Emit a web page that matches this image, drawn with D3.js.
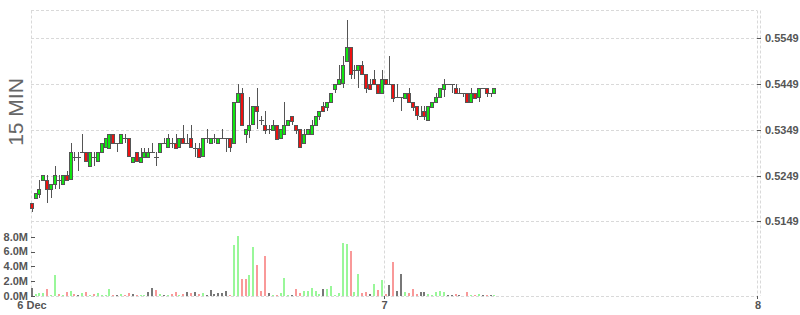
<!DOCTYPE html>
<html lang="en">
<head>
<meta charset="UTF-8">
<script src="https://d3js.org/d3.v7.min.js"></script>
<style>
  body { margin: 0; background: #fff; }
  svg text { font-family: "Liberation Sans", Arial, sans-serif; }
</style>
</head>
<body>
<div id="chart"></div>
<script>
// 15 min candles, first one at 6 Dec 01:15
const firstCandle = "2017-12-06T01:15:00Z";
const open = [0.519,0.520,0.521,0.524,0.524,0.522,0.523,0.524,0.523,0.525,
  0.524,0.529,0.529,0.530,0.530,0.527,0.529,0.528,0.530,0.531,
  0.531,0.534,0.532,0.532,0.533,0.533,0.528,0.530,0.528,0.529,
  0.529,0.530,0.529,0.530,0.532,0.531,0.532,0.532,0.531,0.533,
  0.532,0.533,0.531,0.531,0.529,0.533,0.532,0.533,0.532,0.533,
  0.533,0.533,0.532,0.541,0.543,0.534,0.535,0.536,0.540,0.537,
  0.536,0.535,0.535,0.536,0.533,0.534,0.536,0.538,0.536,0.535,
  0.532,0.534,0.534,0.536,0.538,0.540,0.540,0.541,0.544,0.545,
  0.545,0.550,0.553,0.548,0.548,0.549,0.547,0.545,0.546,0.545,
  0.543,0.546,0.545,0.545,0.542,0.542,0.542,0.543,0.541,0.540,
  0.538,0.539,0.537,0.540,0.541,0.542,0.544,0.545,0.545,0.544,
  0.543,0.543,0.543,0.541,0.543,0.542,0.544,0.544,0.543,0.543];
const high = [0.519,0.521,0.524,0.525,0.525,0.523,0.527,0.525,0.525,0.526,
  0.532,0.530,0.530,0.534,0.530,0.530,0.530,0.530,0.532,0.533,
  0.534,0.534,0.532,0.534,0.534,0.533,0.529,0.530,0.531,0.531,
  0.531,0.532,0.530,0.532,0.533,0.534,0.533,0.534,0.533,0.536,
  0.534,0.536,0.532,0.532,0.533,0.535,0.533,0.534,0.533,0.535,
  0.533,0.533,0.541,0.545,0.544,0.535,0.542,0.540,0.544,0.538,
  0.539,0.536,0.537,0.536,0.535,0.541,0.537,0.538,0.536,0.535,
  0.535,0.535,0.537,0.538,0.539,0.541,0.541,0.543,0.545,0.549,
  0.551,0.559,0.553,0.549,0.549,0.550,0.547,0.546,0.548,0.545,
  0.548,0.546,0.551,0.545,0.545,0.542,0.543,0.544,0.541,0.540,
  0.540,0.540,0.540,0.541,0.543,0.544,0.546,0.545,0.545,0.545,
  0.544,0.543,0.543,0.544,0.543,0.544,0.544,0.544,0.543,0.544];
const low = [0.517,0.520,0.520,0.524,0.519,0.520,0.522,0.522,0.523,0.524,
  0.524,0.528,0.526,0.530,0.528,0.527,0.527,0.528,0.530,0.531,
  0.531,0.532,0.530,0.532,0.532,0.529,0.528,0.528,0.528,0.529,
  0.529,0.530,0.527,0.530,0.532,0.531,0.531,0.531,0.531,0.532,
  0.532,0.531,0.529,0.529,0.529,0.532,0.532,0.532,0.532,0.533,
  0.530,0.530,0.532,0.541,0.536,0.532,0.533,0.536,0.535,0.536,
  0.534,0.534,0.535,0.533,0.533,0.534,0.536,0.536,0.534,0.531,
  0.532,0.534,0.534,0.536,0.537,0.539,0.539,0.541,0.543,0.545,
  0.544,0.550,0.546,0.546,0.544,0.547,0.543,0.544,0.545,0.543,
  0.543,0.545,0.545,0.541,0.542,0.539,0.542,0.541,0.539,0.537,
  0.538,0.537,0.537,0.540,0.541,0.542,0.542,0.545,0.543,0.543,
  0.543,0.542,0.541,0.541,0.542,0.541,0.544,0.542,0.542,0.543];
const close = [0.518,0.521,0.522,0.525,0.522,0.523,0.525,0.524,0.525,0.524,
  0.530,0.529,0.529,0.530,0.528,0.530,0.529,0.530,0.532,0.533,
  0.534,0.532,0.532,0.534,0.533,0.529,0.529,0.528,0.529,0.530,
  0.530,0.530,0.529,0.532,0.532,0.533,0.532,0.531,0.533,0.532,
  0.532,0.531,0.531,0.529,0.533,0.533,0.533,0.533,0.533,0.533,
  0.533,0.531,0.541,0.543,0.536,0.535,0.536,0.540,0.539,0.537,
  0.535,0.535,0.536,0.533,0.535,0.536,0.537,0.537,0.535,0.531,
  0.534,0.535,0.536,0.538,0.539,0.539,0.541,0.543,0.545,0.546,
  0.549,0.553,0.547,0.548,0.549,0.547,0.544,0.544,0.545,0.543,
  0.546,0.545,0.545,0.542,0.542,0.542,0.543,0.541,0.540,0.538,
  0.538,0.538,0.540,0.541,0.542,0.544,0.545,0.545,0.545,0.543,
  0.543,0.543,0.541,0.543,0.542,0.544,0.544,0.543,0.543,0.544];
// volume in millions
const volume = [1.1,0.3,0.4,0.4,0.9,0.1,2.8,0.3,0.2,0.5,
  0.7,0.3,0.1,0.4,0.5,0.2,0.3,0.4,0.2,0.2,
  1.0,0.2,0.1,0.27,0.2,0.45,0.3,0.1,0.2,0.1,
  0.55,1.1,0.8,0.3,0.1,0.2,0.3,0.6,0.2,0.3,
  0.55,0.45,0.55,0.27,0.36,0.1,0.8,0.27,0.36,0.36,
  0.7,0.1,6.9,8.1,2.3,2.3,2.8,6.6,4.2,0.7,
  5.4,0.4,0.15,0.15,0.4,2.4,0.15,0.15,0.95,0.4,
  0.7,0.7,1.1,0.7,0.3,0.95,0.95,1.35,0.15,0.4,
  7.2,7.0,6.1,0.55,3.0,0.4,0.55,0.3,1.6,0.8,
  2.2,0.3,1.5,4.6,0.7,3.0,0.55,0.4,0.95,0.3,
  0.55,0.55,0.27,0.1,0.55,0.7,0.55,0.2,0.2,0.27,
  0.1,0.05,0.55,0.2,0.2,0.27,0.1,0.2,0.2,0.1];

const priceTicks = [0.5149, 0.5249, 0.5349, 0.5449, 0.5549];
const volumeTicks = [0, 2, 4, 6, 8];
const xTicks = ["2017-12-06T01:20:00Z", "2017-12-07T00:00:00Z", "2017-12-08T00:00:00Z"];
const xTickText = ["6 Dec", "7", "8"];
const paneLabel = "15 MIN";

const W = 800, H = 315;
const plotL = 31, plotR = 757, plotT = 10.5, plotB = 296;
const step = 15 * 60 * 1000;

const svg = d3.select("#chart").append("svg")
  .attr("width", W).attr("height", H);

const x = d3.scaleTime()
  .domain([new Date(xTicks[0]), new Date(xTicks[2])])
  .range([plotL, plotR]);
const y = d3.scaleLinear().domain([0.5149, 0.5549]).range([221.3, 38.3]);
const yv = d3.scaleLinear().domain([0, 8]).range([plotB, 236.7]);

const t0 = new Date(firstCandle).getTime();
const data = open.map((o, i) => ({
  t: new Date(t0 + i * step + step / 2),
  o, h: high[i], l: low[i], c: close[i], v: volume[i],
  prev: i > 0 ? close[i - 1] : null
}));
const cx = d => Math.round(x(d.t)) + 0.5;

// grid
const grid = svg.append("g")
  .attr("stroke", "#d9d9d9").attr("stroke-dasharray", "3,2").attr("fill", "none");
grid.selectAll("line.h")
  .data([...priceTicks, "top"])
  .join("line")
  .attr("x1", plotL).attr("x2", plotR)
  .attr("y1", d => d === "top" ? plotT : Math.round(y(d)) + 0.5)
  .attr("y2", d => d === "top" ? plotT : Math.round(y(d)) + 0.5);
grid.append("line").attr("x1", plotL).attr("x2", plotR)
  .attr("y1", plotB + 0.5).attr("y2", plotB + 0.5);
grid.selectAll("line.v")
  .data([plotL + 0.5, Math.round(x(new Date(xTicks[1]))) + 0.5, plotR + 0.5, plotR + 3.5])
  .join("line")
  .attr("x1", d => d).attr("x2", d => d)
  .attr("y1", plotT).attr("y2", plotB);

// volume bars
const volColor = d => d.prev === null || d.c === d.prev ? "#777" : (d.c > d.prev ? "#99f799" : "#f99999");
svg.append("g").selectAll("rect")
  .data(data)
  .join("rect")
  .attr("x", d => cx(d) - 1.5)
  .attr("width", 2)
  .attr("y", d => yv(d.v))
  .attr("height", d => plotB - yv(d.v))
  .attr("fill", volColor)
  .attr("shape-rendering", "crispEdges");

// candles
const candles = svg.append("g").selectAll("g")
  .data(data)
  .join("g");
candles.append("line")
  .attr("x1", cx).attr("x2", cx)
  .attr("y1", d => Math.round(y(d.h))).attr("y2", d => Math.round(y(d.l)))
  .attr("stroke", "#555").attr("stroke-width", 1);
candles.filter(d => d.o !== d.c).append("rect")
  .attr("x", d => cx(d) - 2)
  .attr("width", 3)
  .attr("y", d => Math.round(y(Math.max(d.o, d.c))) + 0.5)
  .attr("height", d => Math.round(Math.abs(y(d.o) - y(d.c))))
  .attr("fill", d => d.c > d.o ? "#11e611" : "#ee1111")
  .attr("stroke", "#555").attr("stroke-width", 1);
candles.filter(d => d.o === d.c).append("line")
  .attr("x1", d => cx(d) - 2.5).attr("x2", d => cx(d) + 2.5)
  .attr("y1", d => Math.round(y(d.c)) + 0.5).attr("y2", d => Math.round(y(d.c)) + 0.5)
  .attr("stroke", "#555").attr("stroke-width", 1);

// right price axis
const pAxis = svg.append("g");
pAxis.selectAll("line")
  .data(priceTicks)
  .join("line")
  .attr("x1", plotR).attr("x2", plotR + 4)
  .attr("y1", d => Math.round(y(d)) + 0.5).attr("y2", d => Math.round(y(d)) + 0.5)
  .attr("stroke", "#555");
pAxis.selectAll("text")
  .data(priceTicks)
  .join("text")
  .attr("x", plotR + 8).attr("y", d => y(d))
  .attr("dy", "0.36em")
  .attr("font-size", 11).attr("font-weight", "bold").attr("fill", "#555")
  .text(d => d3.format(".4f")(d));

// left volume axis
const vAxis = svg.append("g");
vAxis.selectAll("line")
  .data(volumeTicks)
  .join("line")
  .attr("x1", plotL).attr("x2", plotL + 4)
  .attr("y1", d => Math.round(yv(d)) + 0.5).attr("y2", d => Math.round(yv(d)) + 0.5)
  .attr("stroke", "#555");
vAxis.selectAll("text")
  .data(volumeTicks)
  .join("text")
  .attr("x", plotL - 3).attr("y", d => yv(d))
  .attr("dy", "0.36em").attr("text-anchor", "end")
  .attr("font-size", 11).attr("font-weight", "bold").attr("fill", "#555")
  .text(d => d.toFixed(1) + "M");

// x axis labels
const xa = svg.append("g");
xa.selectAll("line")
  .data(xTicks.slice(1))
  .join("line")
  .attr("x1", d => Math.round(x(new Date(d))) + 0.5).attr("x2", d => Math.round(x(new Date(d))) + 0.5)
  .attr("y1", plotB).attr("y2", plotB + 3)
  .attr("stroke", "#555");
xa.selectAll("text")
  .data(xTicks)
  .join("text")
  .attr("x", d => x(new Date(d)) + 1)
  .attr("y", 308.5)
  .attr("text-anchor", "middle")
  .attr("font-size", 11).attr("font-weight", "bold").attr("fill", "#555")
  .text((d, i) => xTickText[i]);

// pane label
svg.append("text")
  .attr("transform", "translate(23,112) rotate(-90)")
  .attr("text-anchor", "middle")
  .attr("font-size", 21).attr("fill", "#666")
  .text(paneLabel);
</script>
</body>
</html>
